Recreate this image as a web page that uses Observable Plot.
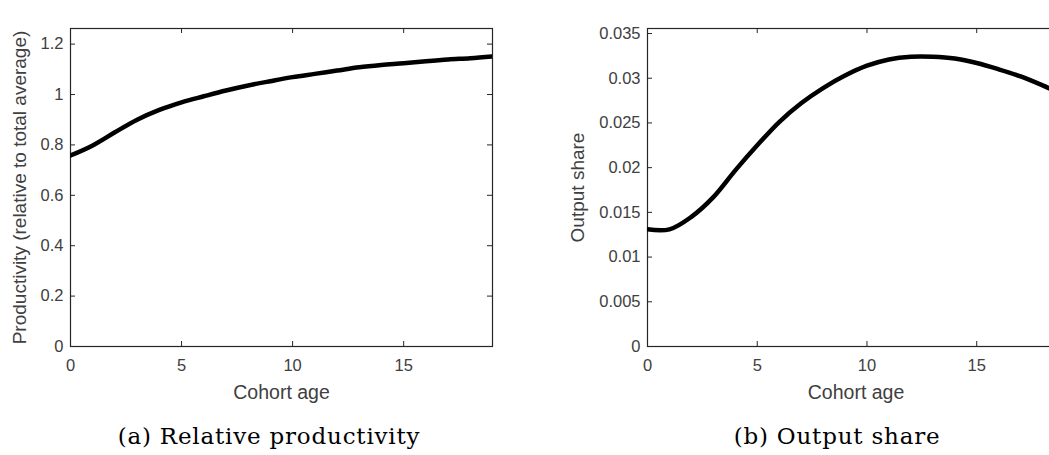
<!DOCTYPE html>
<html>
<head>
<meta charset="utf-8">
<script src="https://cdn.jsdelivr.net/npm/d3@7"></script>
<script src="https://cdn.jsdelivr.net/npm/@observablehq/plot@0.6"></script>
<style>
  html, body { margin: 0; padding: 0; background: #fff; overflow: hidden; }
  #wrap { position: relative; width: 1049px; height: 455px; overflow: hidden; }
  .panel { position: absolute; top: 0; }
  .panel svg { max-width: none !important; display: block; }
  .cap { position: absolute; top: 0; font-family: "DejaVu Serif", "Liberation Serif", serif; font-size: 23px; letter-spacing: 0.8px; color: #000; white-space: nowrap; transform: translateX(-50%); line-height: 1; }
</style>
</head>
<body>
<div id="wrap">
  <div id="pa" class="panel" style="left:0px; width:520px;"></div>
  <div id="pb" class="panel" style="left:540px; width:540px;"></div>
  <div class="cap" style="left:269px; top:425px;">(a) Relative productivity</div>
  <div class="cap" style="left:837px; top:425px;">(b) Output share</div>
</div>
<script>
// ---- data ----
const cohortAge = [0,1,2,3,4,5,6,7,8,9,10,11,12,13,14,15,16,17,18,19];
const productivity = [0.758,0.798,0.850,0.900,0.939,0.969,0.993,1.016,1.036,1.053,1.069,1.082,1.095,1.108,1.117,1.124,1.132,1.139,1.144,1.151];
const outputShare = [0.0131,0.0131,0.0145,0.0167,0.0197,0.0225,0.0251,0.0272,0.0289,0.0303,0.0314,0.0321,0.0324,0.0324,0.0322,0.0317,0.0310,0.0302,0.0292,0.0281];
const xTicks = [0,5,10,15];
const yTicksA = [0,0.2,0.4,0.6,0.8,1,1.2];
const yTicksB = [0,0.005,0.01,0.015,0.02,0.025,0.03,0.035];
const labelA = "Productivity (relative to total average)";
const labelB = "Output share";
const xLabel = "Cohort age";

const axisColor = "#262626";
const tickTextColor = "#404040";
const fmt = d => String(+d.toFixed(4));

function panel({values, yDomain, yTicks, yLabel, width, marginLeft, marginRight, labelDx}) {
  const height = 410, marginTop = 28, marginBottom = 64;
  const plotH = height - marginTop - marginBottom;
  const plotW = width - marginLeft - marginRight;
  const data = cohortAge.map((a, i) => ({age: a, v: values[i]}));
  const tl = 5;
  return Plot.plot({
    width, height, marginTop, marginBottom, marginLeft, marginRight,
    x: {domain: [0, 19]},
    y: {domain: yDomain},
    style: {fontFamily: "'Liberation Sans', Arial, sans-serif", background: "transparent", maxWidth: "none"},
    marks: [
      Plot.frame({stroke: axisColor, strokeWidth: 1.2}),
      // inward ticks
      Plot.tickX(xTicks, {x: d => d, insetTop: plotH - tl, stroke: axisColor}),
      Plot.tickX(xTicks, {x: d => d, insetBottom: plotH - tl, stroke: axisColor}),
      Plot.tickY(yTicks, {y: d => d, insetRight: plotW - tl, stroke: axisColor}),
      Plot.tickY(yTicks, {y: d => d, insetLeft: plotW - tl, stroke: axisColor}),
      Plot.axisX(xTicks, {tickSize: 0, tickPadding: 13, fontSize: 16.5, color: tickTextColor, label: null, tickFormat: fmt}),
      Plot.axisY(yTicks, {tickSize: 0, tickPadding: 7, fontSize: 16.5, color: tickTextColor, label: null, tickFormat: fmt}),
      Plot.text([xLabel], {frameAnchor: "bottom", dy: 46, text: d => d, fontSize: 19.5, fill: tickTextColor, lineAnchor: "middle", textAnchor: "middle"}),
      Plot.text([yLabel], {frameAnchor: "left", dx: labelDx, rotate: -90, text: d => d, fontSize: 19, fill: tickTextColor, lineAnchor: "middle", textAnchor: "middle"}),
      Plot.line(data, {x: "age", y: "v", stroke: "black", strokeWidth: 4.5, curve: "catmull-rom", clip: true})
    ]
  });
}

document.getElementById("pa").appendChild(panel({
  values: productivity, yDomain: [0, 1.262], yTicks: yTicksA, yLabel: labelA,
  width: 520, marginLeft: 70, marginRight: 28, labelDx: -51
}));
document.getElementById("pb").appendChild(panel({
  values: outputShare, yDomain: [0, 0.03556], yTicks: yTicksB, yLabel: labelB,
  width: 540, marginLeft: 107, marginRight: 16, labelDx: -70
}));
</script>
</body>
</html>
